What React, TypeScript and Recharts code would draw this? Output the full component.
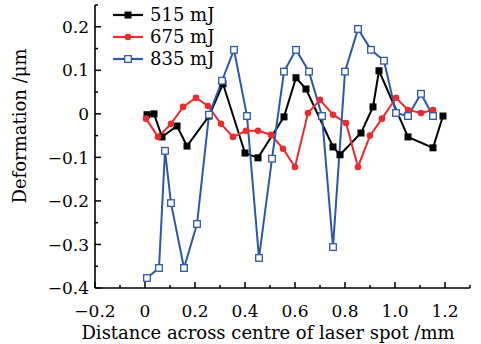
import React from "react";
import { Line, LineChart, XAxis, YAxis } from "recharts";

// 515 mJ (black, filled squares)
const blackX = [0.008, 0.036, 0.068, 0.128, 0.168, 0.256, 0.312, 0.4, 0.452, 0.556, 0.604, 0.644, 0.752, 0.78, 0.864, 0.912, 0.936, 1.052, 1.152, 1.192];
const blackY = [-0.002, 0, -0.053, -0.028, -0.074, -0.005, 0.069, -0.09, -0.101, -0.007, 0.083, 0.057, -0.076, -0.094, -0.044, 0.016, 0.099, -0.053, -0.078, -0.005];

// 675 mJ (red, dots)
const redX = [0.004, 0.052, 0.104, 0.152, 0.204, 0.252, 0.304, 0.352, 0.404, 0.452, 0.504, 0.552, 0.6, 0.652, 0.7, 0.752, 0.804, 0.852, 0.9, 0.948, 1.004, 1.052, 1.104, 1.152];
const redY = [-0.011, -0.053, -0.023, 0.016, 0.037, 0.018, -0.023, -0.053, -0.039, -0.039, -0.048, -0.08, -0.122, 0.002, 0.032, -0.002, -0.021, -0.122, -0.05, -0.011, 0.037, 0.009, 0.002, 0.009];

// 835 mJ (blue, open squares)
const blueX = [0.008, 0.056, 0.08, 0.104, 0.156, 0.208, 0.256, 0.308, 0.356, 0.408, 0.456, 0.508, 0.556, 0.604, 0.656, 0.708, 0.752, 0.8, 0.852, 0.904, 0.956, 1.004, 1.052, 1.104, 1.152];
const blueY = [-0.377, -0.354, -0.085, -0.205, -0.354, -0.253, -0.002, 0.076, 0.147, -0.005, -0.331, -0.103, 0.097, 0.147, 0.097, -0.005, -0.306, 0.097, 0.195, 0.147, 0.122, 0.002, -0.005, 0.046, -0.005];

const seriesNames = ["515 mJ", "675 mJ", "835 mJ"];
const seriesColors = ["#000000", "#ee2a2c", "#2b59a9"];

const xTicks = [-0.2, -0.1, 0, 0.1, 0.2, 0.3, 0.4, 0.5, 0.6, 0.7, 0.8, 0.9, 1.0, 1.1, 1.2, 1.3];
const yTicks = [-0.4, -0.35, -0.3, -0.25, -0.2, -0.15, -0.1, -0.05, 0, 0.05, 0.1, 0.15, 0.2, 0.25];

const FONT = "'DejaVu Serif', serif";

const zip = (xs: number[], ys: number[]) => xs.map((x, i) => ({ x, y: ys[i] }));
const blackData = zip(blackX, blackY);
const redData = zip(redX, redY);
const blueData = zip(blueX, blueY);

const fmt = (v: number) => {
  if (Math.abs(v) < 1e-9) return "0";
  const s = Math.abs(v).toFixed(1);
  return v < 0 ? "\u2212" + s : s;
};

const Marker = ({ kind, cx, cy }: { kind: number; cx: number; cy: number }) => {
  if (kind === 0) return <rect x={cx - 3.5} y={cy - 3.5} width={7} height={7} fill="#000" />;
  if (kind === 1) return <circle cx={cx} cy={cy} r={3.3} fill={seriesColors[1]} />;
  return (
    <rect x={cx - 3.3} y={cy - 3.3} width={6.6} height={6.6} fill="#fff" stroke={seriesColors[2]} strokeWidth={1.3} />
  );
};

const dotFor = (kind: number) => (props: any) => (
  <g key={`dot-${kind}-${props.index}`}>
    <Marker kind={kind} cx={props.cx} cy={props.cy} />
  </g>
);

const XTick = (props: any) => {
  const { x, y, payload } = props;
  const v = payload.value;
  const major = Math.abs(Math.round(v * 10)) % 2 === 0;
  return (
    <g>
      <line x1={x} x2={x} y1={y} y2={y - (major ? 6 : 3)} stroke="#000" strokeWidth={1.5} />
      {major && (
        <text x={x} y={y + 17} dy="0.71em" textAnchor="middle" fontFamily={FONT} fontSize={17} fill="#000">
          {fmt(v)}
        </text>
      )}
    </g>
  );
};

const YTick = (props: any) => {
  const { x, y, payload } = props;
  const v = payload.value;
  const major = Math.abs(Math.round(v * 20)) % 2 === 0;
  return (
    <g>
      <line x1={x} x2={x + (major ? 6 : 3)} y1={y} y2={y} stroke="#000" strokeWidth={1.5} />
      {major && (
        <text x={x - 6} y={y} dy="0.36em" textAnchor="end" fontFamily={FONT} fontSize={17} fill="#000">
          {fmt(v)}
        </text>
      )}
    </g>
  );
};

const LegendBox = () => (
  <div
    style={{
      position: "absolute",
      left: 110,
      top: 4,
      fontFamily: FONT,
      fontSize: 18,
      lineHeight: "22px",
      color: "#000",
    }}
  >
    {seriesNames.map((name, i) => (
      <div key={name} style={{ display: "flex", alignItems: "center", height: 22 }}>
        <svg width={40} height={22} style={{ display: "block" }}>
          <line x1={3} x2={33} y1={11} y2={11} stroke={seriesColors[i]} strokeWidth={2.2} />
          <Marker kind={i} cx={18} cy={11} />
        </svg>
        <span>{name}</span>
      </div>
    ))}
  </div>
);

export default function App() {
  return (
    <div style={{ position: "absolute", left: 0, top: 0, width: 481, height: 344, background: "#fff" }}>
      <LineChart width={481} height={344} margin={{ top: 5, right: 11, bottom: 0, left: 0 }}>
        <XAxis
          type="number"
          dataKey="x"
          domain={[-0.2, 1.3]}
          ticks={xTicks}
          interval={0}
          allowDataOverflow
          height={56}
          tickSize={0}
          tickMargin={0}
          tickLine={false}
          tick={<XTick />}
          axisLine={{ stroke: "#000", strokeWidth: 1.6 }}
          label={{
            content: () => (
              <text x={268} y={339} textAnchor="middle" fontFamily={FONT} fontSize={18} fill="#000">
                Distance across centre of laser spot /mm
              </text>
            ),
          }}
        />
        <YAxis
          type="number"
          domain={[-0.4, 0.25]}
          ticks={yTicks}
          interval={0}
          allowDataOverflow
          width={95}
          tickSize={0}
          tickMargin={0}
          tickLine={false}
          tick={<YTick />}
          axisLine={{ stroke: "#000", strokeWidth: 1.6 }}
          label={{
            content: () => (
              <text
                x={20}
                y={126}
                transform="rotate(-90 20 126)"
                dy="0.36em"
                textAnchor="middle"
                fontFamily={FONT}
                fontSize={18}
                fill="#000"
              >
                Deformation /μm
              </text>
            ),
          }}
        />
        <Line data={blackData} dataKey="y" name={seriesNames[0]} stroke={seriesColors[0]} strokeWidth={2} dot={dotFor(0)} activeDot={false} isAnimationActive={false} />
        <Line data={redData} dataKey="y" name={seriesNames[1]} stroke={seriesColors[1]} strokeWidth={2} dot={dotFor(1)} activeDot={false} isAnimationActive={false} />
        <Line data={blueData} dataKey="y" name={seriesNames[2]} stroke={seriesColors[2]} strokeWidth={2} dot={dotFor(2)} activeDot={false} isAnimationActive={false} />
      </LineChart>
      <LegendBox />
    </div>
  );
}
